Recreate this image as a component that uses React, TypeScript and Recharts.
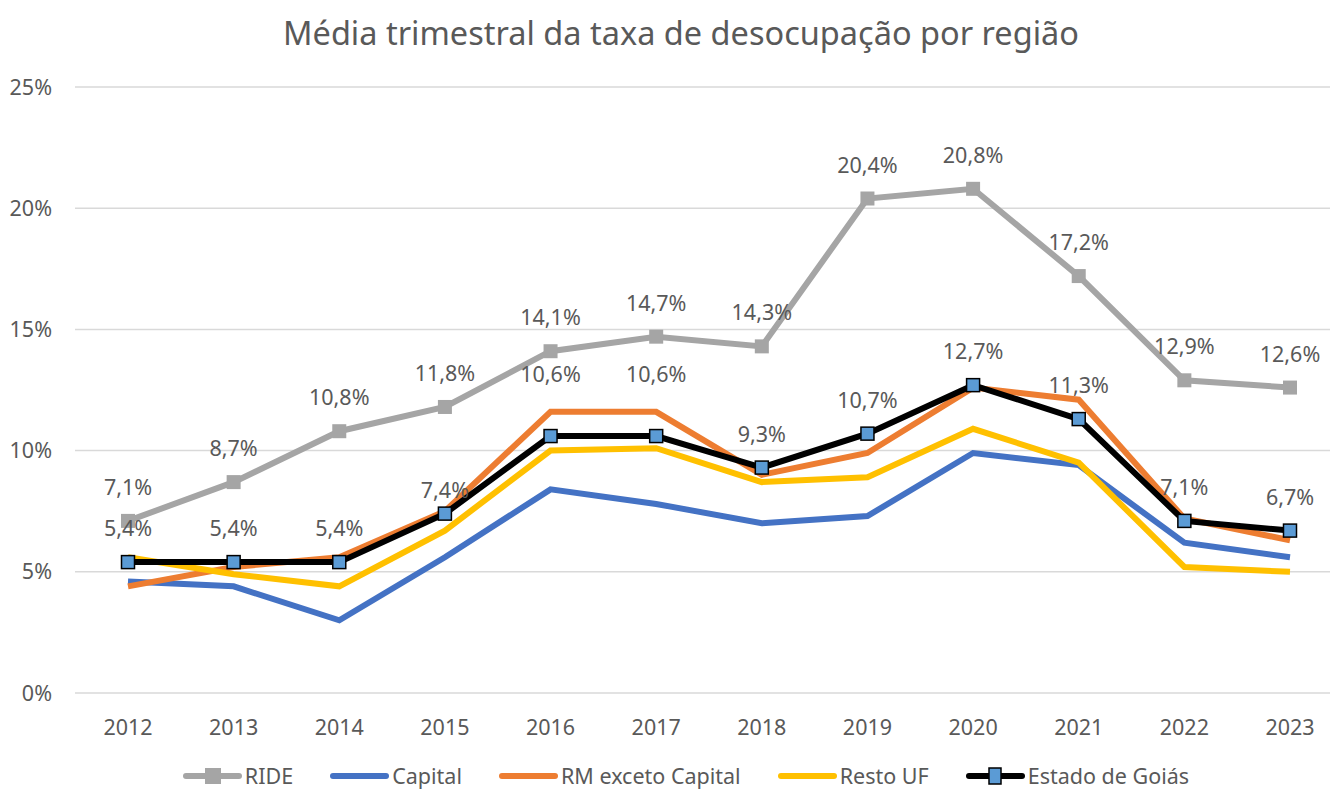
import { CartesianGrid, LabelList, Line, LineChart, XAxis, YAxis } from "recharts";

const years = ["2012", "2013", "2014", "2015", "2016", "2017", "2018", "2019", "2020", "2021", "2022", "2023"];
const ride = [7.1, 8.7, 10.8, 11.8, 14.1, 14.7, 14.3, 20.4, 20.8, 17.2, 12.9, 12.6];
const capital = [4.6, 4.4, 3.0, 5.6, 8.4, 7.8, 7.0, 7.3, 9.9, 9.4, 6.2, 5.6];
const rmExcetoCapital = [4.4, 5.2, 5.6, 7.5, 11.6, 11.6, 9.0, 9.9, 12.6, 12.1, 7.2, 6.3];
const restoUF = [5.6, 4.9, 4.4, 6.7, 10.0, 10.1, 8.7, 8.9, 10.9, 9.5, 5.2, 5.0];
const estadoGoias = [5.4, 5.4, 5.4, 7.4, 10.6, 10.6, 9.3, 10.7, 12.7, 11.3, 7.1, 6.7];
const yTicks = [0, 5, 10, 15, 20, 25];

const data = years.map((year, i) => ({
  year,
  ride: ride[i],
  capital: capital[i],
  rm: rmExcetoCapital[i],
  resto: restoUF[i],
  estado: estadoGoias[i],
}));

const TEXT = "#595959";
const FONT = "'Noto Sans', 'Open Sans', sans-serif";

const fmt = (v: number) => `${v.toFixed(1).replace(".", ",")}%`;

// labels for Estado de Goiás moved up where they would sit on the orange line
const estadoLift: Record<number, number> = { 3: -10, 4: 28, 5: 28 };

function makeLabel(lift: Record<number, number>) {
  return (props: any) => {
    const { x, y, value, index } = props;
    const extra = lift[index] ?? 0;
    return (
      <text
        x={x}
        y={y - 26 - extra}
        textAnchor="middle"
        fill={TEXT}
        fontSize={21.5}
        fontFamily={FONT}
      >
        {fmt(value)}
      </text>
    );
  };
}

function GraySquare(props: any) {
  const { cx, cy, index } = props;
  return <rect key={index} x={cx - 7} y={cy - 7} width={14} height={14} fill="#A5A5A5" />;
}

function BlueSquare(props: any) {
  const { cx, cy, index } = props;
  return (
    <rect
      key={index}
      x={cx - 6.5}
      y={cy - 6.5}
      width={13}
      height={13}
      fill="#5B9BD5"
      stroke="#000"
      strokeWidth={1.5}
    />
  );
}

const legendItems = [
  { name: "RIDE", color: "#A5A5A5", marker: "gray" },
  { name: "Capital", color: "#4472C4", marker: "" },
  { name: "RM exceto Capital", color: "#ED7D31", marker: "" },
  { name: "Resto UF", color: "#FFC000", marker: "" },
  { name: "Estado de Goiás", color: "#000000", marker: "blue" },
];

export default function App() {
  return (
    <div
      style={{
        position: "absolute",
        left: 0,
        top: 0,
        width: 1330,
        height: 789,
        overflow: "hidden",
        background: "#fff",
        fontFamily: FONT,
      }}
    >
      <div
        style={{
          position: "absolute",
          top: 10,
          left: 0,
          width: 1362,
          textAlign: "center",
          fontSize: 32.5,
          color: TEXT,
        }}
      >
        Média trimestral da taxa de desocupação por região
      </div>
      <LineChart
        width={1330}
        height={789}
        data={data}
        margin={{ top: 87, right: 0, bottom: 0, left: 0 }}
      >
        <CartesianGrid vertical={false} stroke="#D9D9D9" strokeWidth={1.5} />
        <XAxis
          dataKey="year"
          axisLine={false}
          tickLine={false}
          tickSize={0}
          tickMargin={27}
          height={96}
          padding={{ left: 53, right: 40 }}
          tick={{ fill: TEXT, fontSize: 21.5, fontFamily: FONT }}
        />
        <YAxis
          domain={[0, 25]}
          ticks={yTicks}
          axisLine={false}
          tickLine={false}
          tickSize={0}
          tickMargin={23}
          width={75}
          tickFormatter={(v: number) => `${v}%`}
          tick={{ fill: TEXT, fontSize: 21.5, fontFamily: FONT }}
        />
        <Line
          dataKey="ride"
          stroke="#A5A5A5"
          strokeWidth={6}
          dot={GraySquare}
          activeDot={false}
          isAnimationActive={false}
        >
          <LabelList dataKey="ride" content={makeLabel({})} />
        </Line>
        <Line
          dataKey="capital"
          stroke="#4472C4"
          strokeWidth={6}
          dot={false}
          activeDot={false}
          isAnimationActive={false}
        />
        <Line
          dataKey="rm"
          stroke="#ED7D31"
          strokeWidth={6}
          dot={false}
          activeDot={false}
          isAnimationActive={false}
        />
        <Line
          dataKey="resto"
          stroke="#FFC000"
          strokeWidth={6}
          dot={false}
          activeDot={false}
          isAnimationActive={false}
        />
        <Line
          dataKey="estado"
          stroke="#000000"
          strokeWidth={6}
          dot={BlueSquare}
          activeDot={false}
          isAnimationActive={false}
        >
          <LabelList dataKey="estado" content={makeLabel(estadoLift)} />
        </Line>
      </LineChart>
      <div
        style={{
          position: "absolute",
          top: 764,
          left: 0,
          width: 1372,
          height: 24,
          display: "flex",
          justifyContent: "center",
          gap: 37,
          fontSize: 21.5,
          lineHeight: "24px",
          color: TEXT,
          fontFamily: FONT,
        }}
      >
        {legendItems.map((it) => (
          <div key={it.name} style={{ display: "flex", alignItems: "center", height: 24 }}>
            <svg width={59} height={24} style={{ marginRight: 3 }}>
              <line x1={3} y1={12} x2={56} y2={12} stroke={it.color} strokeWidth={6} strokeLinecap="round" />
              {it.marker === "gray" && <rect x={22} y={4} width={16} height={16} fill="#A5A5A5" />}
              {it.marker === "blue" && (
                <rect x={23} y={4} width={12} height={16} fill="#5B9BD5" stroke="#000" strokeWidth={1.5} />
              )}
            </svg>
            <span>{it.name}</span>
          </div>
        ))}
      </div>
    </div>
  );
}
